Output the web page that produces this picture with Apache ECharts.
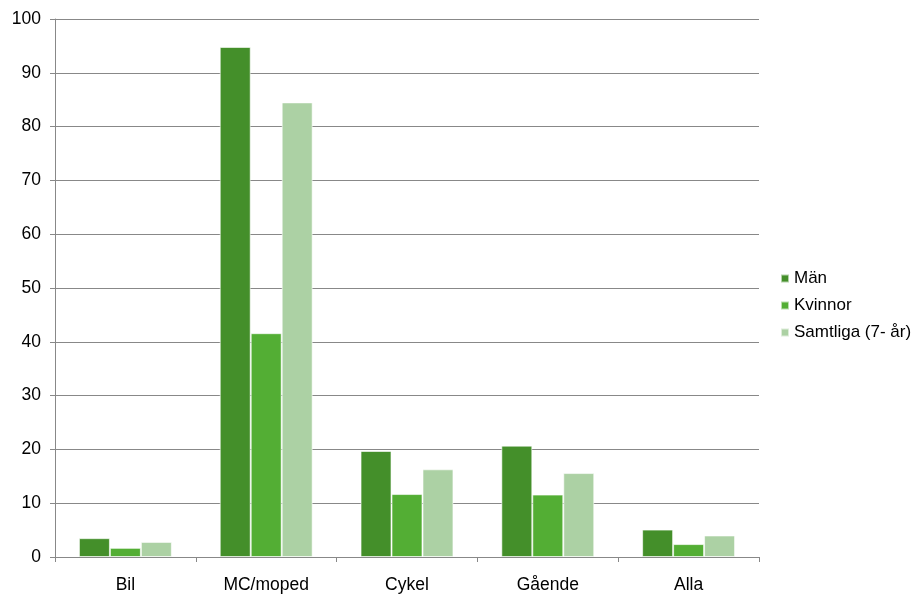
<!DOCTYPE html>
<html>
<head>
<meta charset="utf-8">
<script src="https://cdn.jsdelivr.net/npm/echarts@6/dist/echarts.min.js"></script>
<style>
  html, body { margin: 0; padding: 0; background: #fff; }
  #chart { width: 917px; height: 594px; }
</style>
</head>
<body>
<div id="chart"></div>
<script>
// kategorier och värden
const categories = ['Bil', 'MC/moped', 'Cykel', 'Gående', 'Alla']
const man = [3.5, 94.8, 19.7, 20.7, 5.1]
const kvinnor = [1.7, 41.6, 11.7, 11.6, 2.4]
const samtliga = [2.8, 84.5, 16.3, 15.6, 4.0]
const seriesNames = ['Män', 'Kvinnor', 'Samtliga (7- år)']
const colors = ['#448f2a', '#53ae34', '#acd1a4']

const chart = echarts.init(document.getElementById('chart'))

const makeSeries = (name, data, color) => ({
  name,
  type: 'bar',
  data,
  barGap: '0%',
  barCategoryGap: '34%',
  itemStyle: { color, borderColor: 'rgba(255,255,255,0.6)', borderWidth: 1 },
  emphasis: { disabled: true }
})

chart.setOption({
  animation: false,
  textStyle: { fontFamily: 'Liberation Sans, Arial, sans-serif' },
  grid: { left: 55, right: 158, top: 19, bottom: 36 },
  legend: {
    orient: 'vertical',
    left: 780,
    top: 270,
    padding: 0,
    itemWidth: 8,
    itemHeight: 8,
    itemGap: 10,
    icon: 'rect',
    textStyle: { fontSize: 17, color: '#000' },
    data: seriesNames
  },
  xAxis: {
    type: 'category',
    data: categories,
    axisLine: { lineStyle: { color: '#888', width: 1 } },
    axisTick: { show: true, alignWithLabel: false, length: 5, lineStyle: { color: '#888' } },
    axisLabel: { fontSize: 17.5, color: '#000', margin: 19 }
  },
  yAxis: {
    type: 'value',
    min: 0,
    max: 100,
    interval: 10,
    axisLine: { show: true, lineStyle: { color: '#888', width: 1 } },
    axisTick: { show: true, length: 5, lineStyle: { color: '#888' } },
    axisLabel: { fontSize: 17.5, color: '#000', margin: 14 },
    splitLine: { lineStyle: { color: '#888', width: 1 } }
  },
  series: [
    makeSeries(seriesNames[0], man, colors[0]),
    makeSeries(seriesNames[1], kvinnor, colors[1]),
    makeSeries(seriesNames[2], samtliga, colors[2])
  ]
})
</script>
</body>
</html>
